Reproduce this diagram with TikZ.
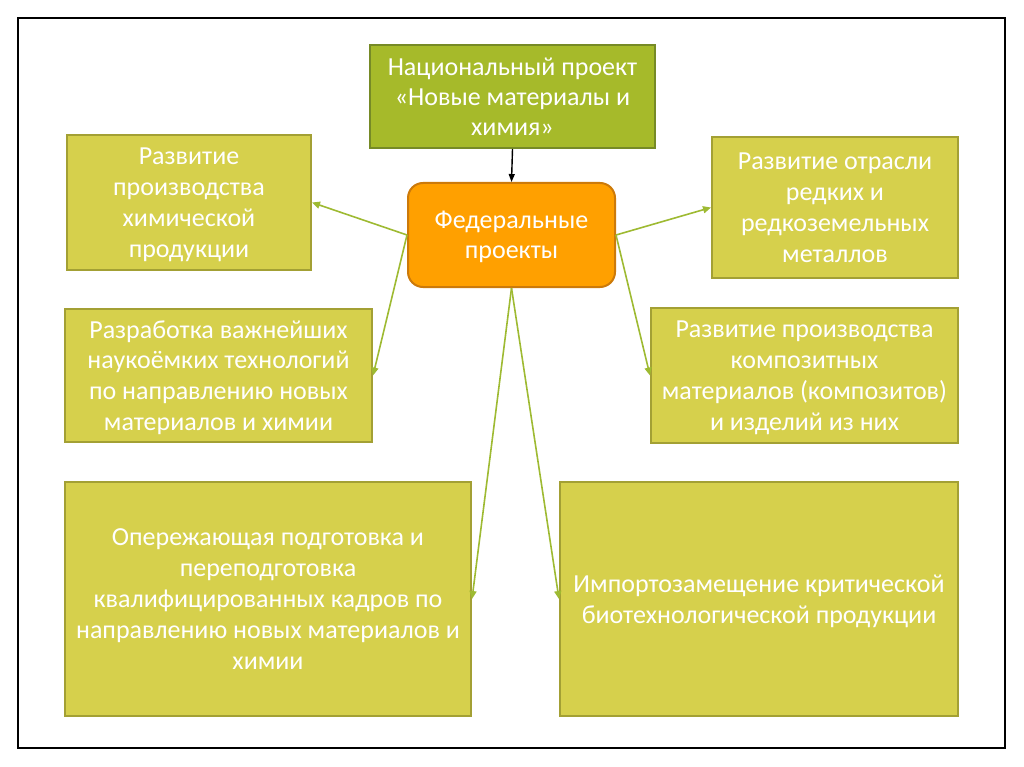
\documentclass[tikz,border=0pt]{standalone}
\usepackage{fontspec}
\setmainfont{Carlito}
\definecolor{npgreen}{RGB}{166, 186, 42}
\definecolor{npgreendk}{RGB}{118, 138, 38}
\definecolor{fporange}{RGB}{255, 160, 0}
\definecolor{fporangedk}{RGB}{204, 122, 10}
\definecolor{taskfill}{RGB}{214, 208, 76}
\definecolor{taskline}{RGB}{163, 160, 52}
\definecolor{linkgreen}{RGB}{158, 186, 50}
\usetikzlibrary{arrows.meta}
\tikzset{
  natbox/.style = {
    rectangle,
    draw=npgreendk,
    fill=npgreen,
    text=white,
    font=\fontsize{26}{30}\selectfont,
    align=center,
    text depth=0pt,
    line width=2pt,
    inner sep=0pt
  },
  fedbox/.style = {
    rectangle,
    rounded corners=15pt,
    draw=fporangedk,
    fill=fporange,
    text=white,
    font=\fontsize{26}{30}\selectfont,
    align=center,
    text depth=0pt,
    line width=2pt,
    inner sep=0pt
  },
  taskbox/.style = {
    rectangle,
    draw=taskline,
    fill=taskfill,
    text=white,
    font=\fontsize{26}{30.8}\selectfont,
    align=center,
    text depth=0pt,
    line width=2pt,
    inner sep=0pt
  },
  linkarrow/.style = {
    -{Triangle[length=8pt, width=7pt]},
    line width=1.6pt,
    draw=linkgreen
  },
  mainarrow/.style = {
    -{Triangle[length=8pt, width=6pt]},
    line width=1.4pt,
    draw=black
  }
}

\begin{document}
\begin{tikzpicture}[x=1pt, y=-1pt]
  \useasboundingbox (0, 0) rectangle (1024, 767);
  % Slide frame
  \draw[line width=2pt] (18, 18) rectangle (1005, 748);

  % Top: national project
  \node[natbox, minimum width=285pt, minimum height=103pt] (natproj) at (512.5, 96.5) {
    Национальный проект\\
    «Новые материалы и\\
    химия»
  };

  % Centre: federal projects
  \node[fedbox, minimum width=207pt, minimum height=104pt] (fedproj) at (511.5, 235) {
    Федеральные\\
    проекты
  };

  % Left column
  \node[taskbox, minimum width=244pt, minimum height=135pt] (chemprod) at (189, 202.5) {
    Развитие\\
    производства\\
    химической\\
    продукции
  };

  \node[taskbox, minimum width=307pt, minimum height=133pt] (hitech) at (218.5, 375.5) {
    Разработка важнейших\\
    наукоёмких технологий\\
    по направлению новых\\
    материалов и химии
  };

  \node[taskbox, minimum width=406pt, minimum height=234pt] (staff) at (268, 599) {
    Опережающая подготовка и\\
    переподготовка\\
    квалифицированных кадров по\\
    направлению новых материалов и\\
    химии
  };

  % Right column
  \node[taskbox, minimum width=246pt, minimum height=141pt] (raremet) at (835, 207.5) {
    Развитие отрасли\\
    редких и\\
    редкоземельных\\
    металлов
  };

  \node[taskbox, minimum width=307pt, minimum height=135pt] (composite) at (804.5, 375.5) {
    Развитие производства\\
    композитных\\
    материалов (композитов)\\
    и изделий из них
  };

  \node[taskbox, minimum width=398pt, minimum height=234pt] (biotech) at (759, 599) {
    Импортозамещение критической\\
    биотехнологической продукции
  };

  % Arrows
  \draw[mainarrow] (natproj.south) -- (fedproj.north);

  \draw[linkarrow] (fedproj.west) -- (chemprod.east);
  \draw[linkarrow] (fedproj.west) -- (hitech.east);
  \draw[linkarrow] (fedproj.south) -- (staff.east);
  \draw[linkarrow] (fedproj.east) -- (raremet.west);
  \draw[linkarrow] (fedproj.east) -- (composite.west);
  \draw[linkarrow] (fedproj.south) -- (biotech.west);
\end{tikzpicture}
\end{document}
